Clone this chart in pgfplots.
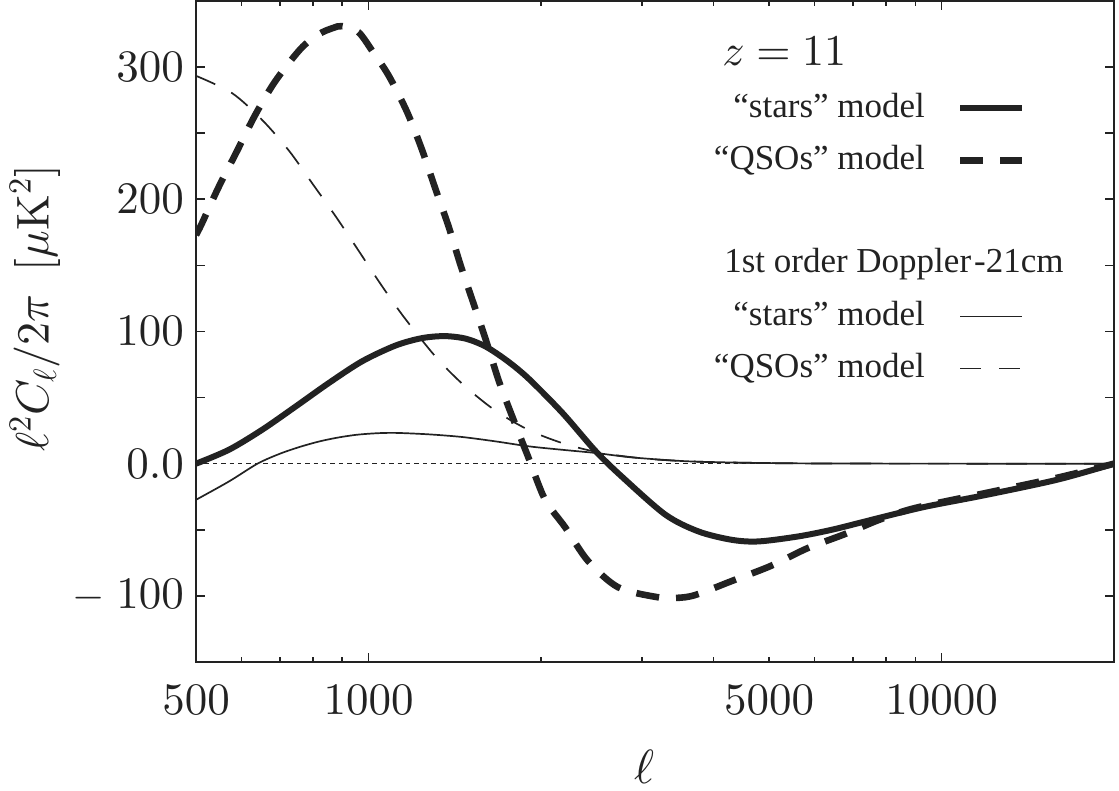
\documentclass[border=0pt]{standalone}
\usepackage[no-math]{fontspec}
\setmainfont{Liberation Serif}
\DeclareFontShape{OT1}{cmr}{m}{n}{<->cmr10}{}
\DeclareFontShape{OML}{cmm}{m}{it}{<->cmmi10}{}
\usepackage{pgfplots}
\pgfplotsset{compat=1.18}
\definecolor{ink}{HTML}{222222}
\begin{document}
\begin{tikzpicture}
\begin{axis}[
  scale only axis, width=459pt, height=330.5pt,
  xmode=log, xmin=500, xmax=20000, ymin=-150, ymax=350,
  axis line style={line width=1pt, ink},
  xtick={1000,10000}, xticklabels={$1000$,$10000$},
  extra x ticks={500,5000}, extra x tick labels={$500$,$5000$},
  extra x tick style={major tick length=2.3pt},
  minor xtick={600,700,800,900,2000,3000,4000,6000,7000,8000,9000},
  major tick length=4.6pt, minor tick length=2.3pt,
  ytick={-150,-100,-50,0,50,100,150,200,250,300,350},
  yticklabels={{},{${-}\;100$},{},{$0.0$},{},{$100$},{},{$200$},{},{$300$},{}},
  tick style={line width=0.8pt, ink},
  tick label style={font=\fontsize{22.5}{27}\selectfont, text=ink},
  xticklabel style={yshift=-8pt},
  yticklabel style={xshift=-2.5pt},
  xlabel={$\ell$},
  xlabel style={at={(axis description cs:0.488,-0.159)}, anchor=center, font=\fontsize{24}{29}\selectfont, text=ink},
  ylabel={$\ell^2 C_\ell/2\pi\ \ [\mu\mathrm{K}^2]$},
  ylabel style={at={(axis description cs:-0.1754,0.535)}, anchor=center, rotate=0, font=\fontsize{23}{28}\selectfont, text=ink},
  legend plot pos=right, legend cell align=right,
  legend style={at={(axis description cs:0.904,0.8638)}, anchor=north east, draw=none, fill=none, inner sep=0pt, row sep=9pt, column sep=16pt, font=\fontsize{17.5}{21}\selectfont, text=ink, nodes={text height=13pt, text depth=4pt, inner sep=0pt}},
  legend image code/.code={\draw[#1] (0pt,0pt) -- (31pt,0pt);},
  no markers,
]
\addplot[forget plot, line width=0.5pt, ink, dash pattern=on 2.2pt off 2pt] coordinates {(500,0) (20000,0)};

\addplot[ink, line width=3pt, smooth] coordinates {
(500,0) (571,10.6) (653,25.8) (747,43.4) (853,61.1) (975,77.5) (1115,89.4) (1240,95) (1360,96.5) (1480,94.5) (1603,88.5) (1750,77.5) (1907,64) (2180,38.4) (2491,9.5) (2771,-10) (3298,-38.6) (3768,-51.3) (4307,-57.6) (4795,-58.8) (5626,-55) (6430,-50) (7354,-43.7) (8403,-37.4) (9500,-32) (11996,-23.5) (15960,-12) (20000,0)};
\addlegendentry{``stars'' model}

\addplot[ink, line width=3.3pt, smooth, dash pattern=on 11.5pt off 8.5pt] coordinates {
(500,173) (511,181) (547,208.8) (589,236.1) (633,263.1) (687,289.1) (762,314) (820,325) (866,329.5) (900,331) (960,326.5) (1016,312) (1085,293.4) (1168,265.9) (1240,237.4) (1308,208.1) (1380,179.3) (1448,150) (1525,121.2) (1603,93.4) (1690,62) (1786,34.6) (1900,5) (2032,-27) (2203,-48) (2415,-73.5) (2724,-93.4) (3176,-100.8) (3450,-101.5) (3719,-99.3) (4325,-88.4) (5037,-77.3) (5830,-64) (6776,-53.3) (7790,-42.4) (8994,-33.5) (11996,-22) (15960,-10.5) (20000,0)};
\addlegendentry{``QSOs'' model}

\addlegendimage{empty legend}\addlegendentry{}
\addlegendimage{empty legend}\addlegendentry{}

\addplot[ink, line width=0.85pt, smooth] coordinates {
(500,-27.3) (571,-13.4) (640,0) (700,7.5) (760,12.8) (820,16.8) (880,19.6) (950,21.8) (1030,23) (1115,23.3) (1274,22.2) (1456,20.2) (1665,16.9) (1907,13.1) (2180,10.5) (2491,8.1) (2846,5) (3300,2.8) (3768,1.5) (4922,0.5) (7000,0.1) (20000,0)};
\addlegendentry{``stars'' model}

\addplot[ink, line width=0.85pt, smooth, dash pattern=on 10.5pt off 9pt] coordinates {
(500,293.4) (578,280.3) (653,259.8) (727,236.6) (798,212) (877,186.9) (960,161.4) (1049,136.1) (1152,111.1) (1312,80.5) (1470,59) (1667,40) (1914,25) (2229,14.2) (2594,7.6) (3083,3.6) (3768,1.5) (4922,0.5) (7000,0.1) (20000,0)};
\addlegendentry{``QSOs'' model}

\node[anchor=base west, inner sep=0pt, font=\fontsize{22}{27}\selectfont, text=ink] at (axis description cs:0.573,0.903) {$z=11$};
\node[anchor=base west, inner sep=0pt, font=\fontsize{17.5}{21}\selectfont, text=ink] at (axis description cs:0.575,0.5885) {1st order Doppler\kern1.5pt-21cm};
\end{axis}
\pgfresetboundingbox
\path ([xshift=-98pt,yshift=-64.5pt]current axis.south west) rectangle ([xshift=2.5pt,yshift=0.5pt]current axis.north east);
\end{tikzpicture}
\end{document}
